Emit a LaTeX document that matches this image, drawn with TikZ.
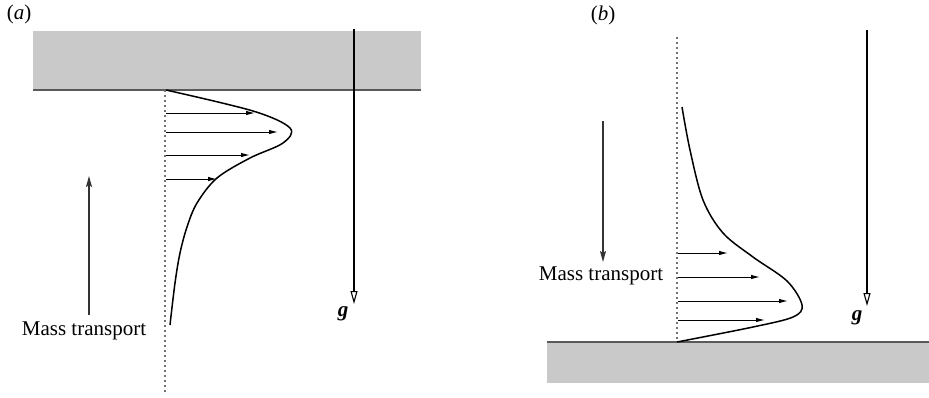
\documentclass[tikz,border=0pt]{standalone}
\usepackage{fontspec}
\setmainfont{Liberation Serif}
\usetikzlibrary{arrows.meta}
\begin{document}
\begin{tikzpicture}[x=1pt,y=-1pt,
  wall/.style={fill=black!21, draw=none},
  walledge/.style={draw=black!65, line width=1.3pt},
  axisline/.style={draw=black!55, line width=1.3pt, dash pattern=on 1.8pt off 3.2pt},
  profile/.style={draw=black, line width=1.5pt},
  vel/.style={draw=black, line width=1pt, -{Latex[length=9pt,width=4.5pt]}},
  mass/.style={draw=black!80, line width=1.3pt, -{Stealth[length=11pt,width=6pt,inset=2pt]}},
  grav/.style={draw=black, line width=1.1pt, -{Triangle[open,length=13pt,width=7pt,fill=white]}},
  lbl/.style={font=\fontsize{21}{25}\selectfont, inner sep=0pt}
]
\useasboundingbox (0,0) rectangle (929,397);

% ---------------- panel (a) ----------------
\node[lbl] (la) at (19,14) {(\textit{a})};
\fill[wall] (33,31) rectangle (421,90);
\coordinate (wa1) at (33,90);
\coordinate (wa2) at (421,90);
\draw[walledge] (wa1) -- (wa2);

\coordinate (da1) at (165,90);
\coordinate (da2) at (165,394);
\draw[axisline] (da1) -- (da2);

\draw[profile] plot[smooth, tension=0.55] coordinates {
  (166,90) (253,111) (290,128) (283,143) (250,158) (217,178) (197,203)
  (187,227) (180,253) (175,283) (170,325)};

\coordinate (va1s) at (166,113); \coordinate (va1e) at (255,113);
\coordinate (va2s) at (166,132); \coordinate (va2e) at (278,132);
\coordinate (va3s) at (166,155); \coordinate (va3e) at (250,155);
\coordinate (va4s) at (166,179); \coordinate (va4e) at (217,179);
\draw[vel] (va1s) -- (va1e);
\draw[vel] (va2s) -- (va2e);
\draw[vel] (va3s) -- (va3e);
\draw[vel] (va4s) -- (va4e);

\node[lbl] (mta) at (84,331) {Mass transport};
\coordinate (ma1) at (89,315);
\coordinate (ma2) at (89,176);
\draw[mass] (ma1) -- (ma2);

\coordinate (ga1) at (354,29);
\coordinate (ga2) at (354,304);
\draw[grav] (ga1) -- (ga2);
\node[lbl] (ga) at (343,314) {\textbf{\textit{g}}};

% ---------------- panel (b) ----------------
\node[lbl] (lb) at (603,15) {(\textit{b})};
\fill[wall] (547,342) rectangle (929,383);
\coordinate (wb1) at (547,342);
\coordinate (wb2) at (929,342);
\draw[walledge] (wb1) -- (wb2);

\coordinate (db1) at (677,37);
\coordinate (db2) at (677,342);
\draw[axisline] (db1) -- (db2);

\draw[profile] plot[smooth, tension=0.55] coordinates {
  (682,107) (690,150) (703,200) (723,233) (753,257) (787,281) (802,305)
  (793,317) (753,327) (677,342)};

\coordinate (vb1s) at (678,253); \coordinate (vb1e) at (728,253);
\coordinate (vb2s) at (678,277); \coordinate (vb2e) at (760,277);
\coordinate (vb3s) at (678,301); \coordinate (vb3e) at (788,301);
\coordinate (vb4s) at (678,320); \coordinate (vb4e) at (765,320);
\draw[vel] (vb1s) -- (vb1e);
\draw[vel] (vb2s) -- (vb2e);
\draw[vel] (vb3s) -- (vb3e);
\draw[vel] (vb4s) -- (vb4e);

\node[lbl] (mtb) at (601,276) {Mass transport};
\coordinate (mb1) at (603,121);
\coordinate (mb2) at (603,262);
\draw[mass] (mb1) -- (mb2);

\coordinate (gb1) at (867,30);
\coordinate (gb2) at (867,306);
\draw[grav] (gb1) -- (gb2);
\node[lbl] (gb) at (857,318) {\textbf{\textit{g}}};
\end{tikzpicture}
\end{document}
